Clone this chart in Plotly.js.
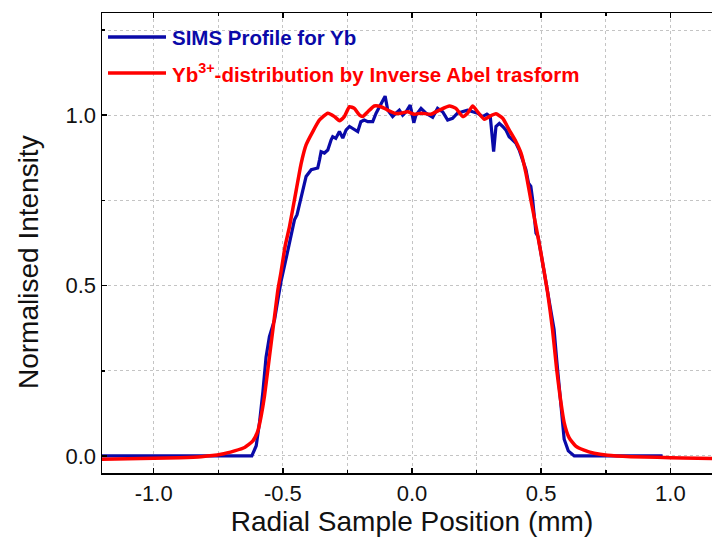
<!DOCTYPE html>
<html>
<head>
<meta charset="utf-8">
<script src="https://cdn.plot.ly/plotly-3.0.1.min.js"></script>
<style>
html,body{margin:0;padding:0;overflow:hidden;background:#fff;}
#chart{width:723px;height:543px;}
</style>
</head>
<body>
<div id="chart"></div>
<script>
// SIMS profile (blue)
var simsX = [-1.2,-0.62,-0.603,-0.59,-0.577,-0.565,-0.552,-0.541,-0.532,-0.519,-0.507,-0.49,-0.474,-0.455,-0.445,-0.422,-0.41,-0.39,-0.365,-0.358,-0.352,-0.339,-0.326,-0.313,-0.307,-0.295,-0.281,-0.268,-0.255,-0.242,-0.223,-0.21,-0.198,-0.185,-0.171,-0.152,-0.139,-0.12,-0.104,-0.094,-0.075,-0.062,-0.049,-0.036,-0.023,-0.007,0.007,0.015,0.035,0.054,0.08,0.099,0.119,0.138,0.157,0.176,0.196,0.215,0.235,0.254,0.273,0.29,0.303,0.316,0.325,0.338,0.351,0.363,0.376,0.389,0.402,0.415,0.428,0.441,0.451,0.46,0.467,0.473,0.48,0.488,0.499,0.515,0.537,0.55,0.56,0.57,0.579,0.589,0.605,0.628,0.97];
var simsY = [0,0,0.03,0.1,0.19,0.29,0.35,0.374,0.4,0.459,0.512,0.57,0.625,0.693,0.708,0.781,0.82,0.84,0.845,0.869,0.893,0.889,0.898,0.928,0.937,0.932,0.952,0.933,0.957,0.967,0.957,0.952,0.981,0.986,0.981,0.981,1.006,1.035,1.056,1.015,0.996,1.006,1.015,1.0,1.01,1.03,0.978,1.0,1.02,1.006,0.994,1.02,1.01,0.986,0.991,1.006,1.01,1.015,1.01,1.006,0.996,1.003,0.996,0.893,0.967,0.976,0.967,0.957,0.937,0.928,0.918,0.898,0.869,0.84,0.801,0.791,0.752,0.693,0.654,0.644,0.596,0.525,0.43,0.371,0.283,0.195,0.117,0.049,0.015,0,0];

// Inverse Abel transform (red)
var abelX = [-1.2,-1.1,-1.0,-0.9,-0.816,-0.739,-0.687,-0.648,-0.616,-0.597,-0.584,-0.571,-0.558,-0.545,-0.532,-0.519,-0.507,-0.49,-0.474,-0.448,-0.429,-0.41,-0.384,-0.358,-0.326,-0.3,-0.281,-0.262,-0.242,-0.223,-0.204,-0.191,-0.171,-0.146,-0.12,-0.094,-0.068,-0.043,-0.017,0.009,0.035,0.073,0.106,0.145,0.17,0.196,0.215,0.235,0.254,0.28,0.299,0.325,0.351,0.376,0.402,0.422,0.441,0.46,0.48,0.499,0.525,0.544,0.56,0.573,0.589,0.608,0.634,0.666,0.705,0.757,0.847,0.95,1.05,1.2];
var abelY = [-0.01,-0.008,-0.007,-0.005,-0.002,0.005,0.015,0.025,0.044,0.073,0.117,0.176,0.254,0.332,0.41,0.488,0.54,0.62,0.674,0.781,0.859,0.913,0.952,0.986,1.006,0.996,0.984,0.996,1.025,1.02,1.001,0.996,1.01,1.027,1.025,1.015,1.006,1.006,1.01,1.003,1.006,1.003,1.015,1.027,1.02,0.996,1.006,1.027,1.01,0.988,0.996,1.004,0.991,0.957,0.923,0.889,0.83,0.752,0.674,0.596,0.479,0.371,0.254,0.176,0.098,0.054,0.029,0.017,0.008,0.002,-0.002,-0.004,-0.006,-0.008];

// tick labels
var xTickVals = [-1.0,-0.5,0.0,0.5,1.0];
var xTickText = ['-1.0','-0.5','0.0','0.5','1.0'];
var xMinorVals = [-1.0,-0.75,-0.5,-0.25,0.0,0.25,0.5,0.75,1.0];
var yTickVals = [0.0,0.5,1.0];
var yTickText = ['0.0','0.5','1.0'];
var yMinorVals = [0.0,0.25,0.5,0.75,1.0,1.25];

var legendNames = ['SIMS Profile for Yb', 'Yb<sup>3+</sup>-distribution by Inverse Abel trasform'];
var colors = ['#0a0aa8', '#ff0000'];
var xTitle = 'Radial Sample Position (mm)';
var yTitle = 'Normalised Intensity';

var gridColor = '#c4c4c4', gridDash = '3px,3px';

var traces = [
  {x:simsX, y:simsY, mode:'lines', line:{color:colors[0], width:3.2}, name:legendNames[0], showlegend:false},
  {x:abelX, y:abelY, mode:'lines', line:{color:colors[1], width:3.5, shape:'spline', smoothing:0.5}, name:legendNames[1], showlegend:false}
];

var W = 620, L = 102, T = 13, H = 460;
function px2paperX(p){ return (p - L) / W; }
function px2paperY(p){ return (T + H - p) / H; }

var legendRows = [37, 73];
var shapes = [], annotations = [];
for (var i = 0; i < 2; i++) {
  shapes.push({type:'line', xref:'paper', yref:'paper', x0:px2paperX(108), x1:px2paperX(166), y0:px2paperY(legendRows[i]), y1:px2paperY(legendRows[i]), line:{color:colors[i], width:3.5}});
  annotations.push({xref:'paper', yref:'paper', x:px2paperX(170), y:px2paperY(legendRows[i]), xanchor:'left', yanchor:'middle', showarrow:false, text:'<b>'+legendNames[i]+'</b>', font:{family:'Liberation Sans Narrow, Arial Narrow, sans-serif', size:20.5, color:colors[i]}});
}
annotations.push({xref:'paper', yref:'paper', x:px2paperX(28), y:px2paperY(262), xanchor:'center', yanchor:'middle', textangle:-90, showarrow:false, text:yTitle, font:{family:'Liberation Sans, Arial, sans-serif', size:28, color:'#111'}});

var axisCommon = {
  showline:true, linecolor:'#000', linewidth:1.5, mirror:'ticks',
  ticks:'inside', ticklen:5, tickwidth:1.5, tickcolor:'#000',
  showgrid:true, gridcolor:gridColor, griddash:gridDash, gridwidth:1,
  zeroline:false, tickmode:'array',
  tickfont:{family:'Liberation Sans, Arial, sans-serif', size:22, color:'#111'}
};
function minorOpts(vals){
  return {tickmode:'array', tickvals:vals, ticks:'inside', ticklen:3, tickwidth:1.5, tickcolor:'#000', showgrid:true, gridcolor:gridColor, griddash:gridDash, gridwidth:1};
}

var layout = {
  width:723, height:543,
  margin:{l:L, r:1, t:T, b:70},
  paper_bgcolor:'#fff', plot_bgcolor:'#fff',
  showlegend:false,
  xaxis:Object.assign({}, axisCommon, {
    range:[-1.2,1.2], tickvals:xTickVals, ticktext:xTickText,
    minor:minorOpts(xMinorVals),
    title:{text:xTitle, font:{family:'Liberation Sans, Arial, sans-serif', size:28, color:'#111'}, standoff:6}
  }),
  yaxis:Object.assign({}, axisCommon, {
    range:[-0.05,1.3], tickvals:yTickVals, ticktext:yTickText,
    minor:minorOpts(yMinorVals)
  }),
  shapes:shapes,
  annotations:annotations
};

Plotly.newPlot('chart', traces, layout, {displayModeBar:false, staticPlot:true});
</script>
</body>
</html>
